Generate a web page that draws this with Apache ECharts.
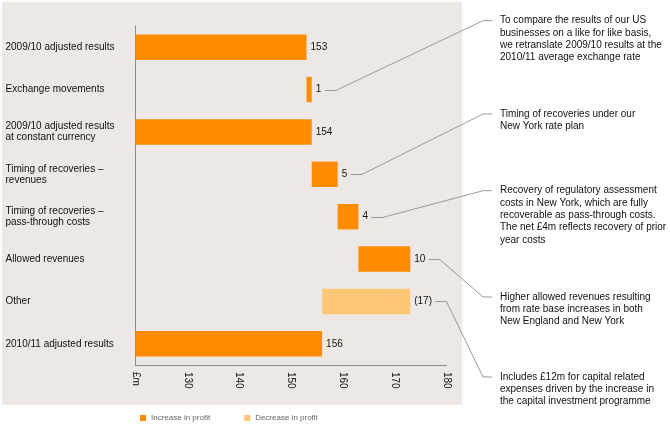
<!DOCTYPE html>
<html><head><meta charset="utf-8">
<script src="https://cdn.jsdelivr.net/npm/echarts@6/dist/echarts.min.js"></script>
<style>html,body{margin:0;padding:0;background:#fff}#c{width:670px;height:424px}</style>
</head><body><div id="c"></div>
<script>
const categories = ['2009/10 adjusted results', 'Exchange movements', '2009/10 adjusted results\nat constant currency', 'Timing of recoveries –\nrevenues', 'Timing of recoveries –\npass-through costs', 'Allowed revenues', 'Other', '2010/11 adjusted results'];
const baseValues = [0, 153, 0, 154, 159, 163, 156, 0];
const increaseValues = [153, 1, 154, 5, 4, 10, '-', 156];
const decreaseValues = ['-', '-', '-', '-', '-', '-', 17, '-'];
const valueLabels = ['153', '1', '154', '5', '4', '10', '(17)', '156'];
const xTickValues = [120, 130, 140, 150, 160, 170, 180];
const xTickLabels = ['£m', '130', '140', '150', '160', '170', '180'];
const noteRows = [1, 3, 4, 5, 6];
const noteTexts = [
  'To compare the results of our US\nbusinesses on a like for like basis,\nwe retranslate 2009/10 results at the\n2010/11 average exchange rate',
  'Timing of recoveries under our\nNew York rate plan',
  'Recovery of regulatory assessment\ncosts in New York, which are fully\nrecoverable as pass-through costs.\nThe net £4m reflects recovery of prior\nyear costs',
  'Higher allowed revenues resulting\nfrom rate base increases in both\nNew England and New York',
  'Includes £12m for capital related\nexpenses driven by the increase in\nthe capital investment programme'
];
// layout only
const noteFirstLineY = [20.7, 114, 190.7, 297, 377];

const FONT = '"Liberation Sans", Arial, sans-serif';
const ORANGE = '#FF8C00', LIGHT = '#FFC676';

const chart = echarts.init(document.getElementById('c'), null, {renderer: 'canvas'});
const labelOpt = {
  show: true, position: 'right', distance: 4, color: '#111', fontSize: 10, fontFamily: FONT,
  formatter: p => valueLabels[p.dataIndex]
};
const option = {
  animation: false,
  grid: {left: 135.5, width: 311, top: 26, bottom: 59},
  legend: {
    left: 135, top: 409, itemWidth: 6, itemHeight: 6, itemGap: 34, icon: 'rect',
    textStyle: {fontSize: 8, color: '#666', fontFamily: FONT},
    data: ['Increase in profit', 'Decrease in profit']
  },
  xAxis: {
    type: 'value', min: 120, max: 180, interval: 10,
    splitLine: {show: false},
    axisTick: {show: false},
    axisLine: {show: true, lineStyle: {color: '#8a8a8a', width: 1}},
    axisLabel: {
      rotate: -90, margin: 7, fontSize: 10, color: '#111', fontFamily: FONT,
      formatter: v => xTickLabels[xTickValues.indexOf(v)]
    }
  },
  yAxis: {
    type: 'category', inverse: true, data: categories,
    axisTick: {show: false},
    axisLine: {show: true, lineStyle: {color: '#8a8a8a', width: 1}},
    axisLabel: {align: 'left', margin: 130, fontSize: 10, lineHeight: 11, color: '#111', fontFamily: FONT}
  },
  series: [
    {type: 'bar', stack: 'w', data: baseValues, itemStyle: {color: 'rgba(0,0,0,0)'}, barCategoryGap: '40%', silent: true},
    {name: 'Increase in profit', type: 'bar', stack: 'w', data: increaseValues, itemStyle: {color: ORANGE}, label: labelOpt},
    {name: 'Decrease in profit', type: 'bar', stack: 'w', data: decreaseValues, itemStyle: {color: LIGHT}, label: labelOpt}
  ],
  graphic: [{type: 'rect', z: -10, shape: {x: 2, y: 2, width: 460, height: 403}, style: {fill: '#EDE8E5'}, silent: true}]
};
chart.setOption(option);

// leader lines computed from bar ends
const ctx = document.createElement('canvas').getContext('2d');
ctx.font = '10px ' + FONT;
const graphics = [];
noteRows.forEach((row, i) => {
  const endVal = baseValues[row] + (increaseValues[row] !== '-' ? increaseValues[row] : decreaseValues[row]);
  const p = chart.convertToPixel({xAxisIndex: 0, yAxisIndex: 0}, [endVal, row]);
  const lw = ctx.measureText(valueLabels[row]).width;
  const x0 = p[0] + 4 + lw + 3.5;
  const y0 = Math.round(p[1]) + 0.5;
  const ny = noteFirstLineY[i];
  graphics.push({type: 'polyline', z: 5, shape: {points: [[x0, y0], [x0 + 11, y0], [483, ny], [492, ny]]},
    style: {stroke: '#9a9a9a', lineWidth: 1, fill: null}, silent: true});
  graphics.push({type: 'text', z: 5, style: {text: noteTexts[i], x: 500, y: ny - 6.2, font: '10px ' + FONT,
    lineHeight: 12.3, fill: '#111', verticalAlign: 'top'}, silent: true});
});
chart.setOption({graphic: option.graphic.concat(graphics)}, {replaceMerge: ['graphic']});
</script></body></html>
